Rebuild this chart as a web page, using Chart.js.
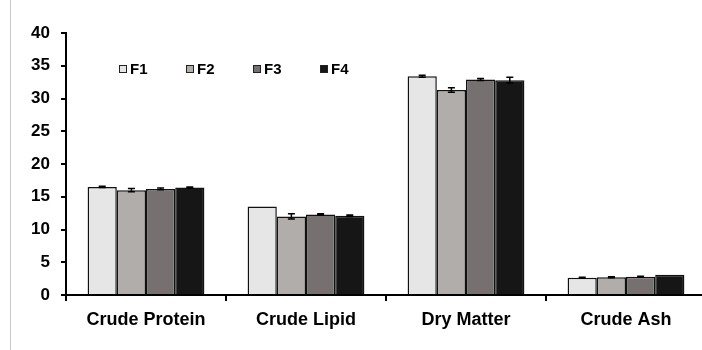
<!DOCTYPE html>
<html>
<head>
<meta charset="utf-8">
<script src="https://cdn.jsdelivr.net/npm/chart.js@4/dist/chart.umd.min.js"></script>
<style>
  html, body { margin: 0; padding: 0; background: #fff; overflow: hidden; }
  #wrap { position: relative; width: 708px; height: 350px; }
  #frame { position: absolute; left: 10px; top: 0; width: 1px; height: 350px; background: #c8c8c8; }
</style>
</head>
<body>
<div id="wrap"><div id="frame"></div><canvas id="c"></canvas></div>
<script>
const categories = ["Crude Protein", "Crude Lipid", "Dry Matter", "Crude Ash"];
const seriesNames = ["F1", "F2", "F3", "F4"];
const F1 = [16.5, 13.5, 33.4, 2.65];
const F2 = [16.0, 12.0, 31.3, 2.7];
const F3 = [16.2, 12.3, 32.9, 2.8];
const F4 = [16.4, 12.1, 32.8, 3.1];
const F1err = [0.1, 0.0, 0.15, 0.05];
const F2err = [0.25, 0.4, 0.35, 0.08];
const F3err = [0.15, 0.1, 0.15, 0.05];
const F4err = [0.1, 0.1, 0.45, 0.0];
const colors = ["#e6e6e6", "#b0adab", "#767170", "#161616"];
const yTicks = [0, 5, 10, 15, 20, 25, 30, 35, 40];

const values = [F1, F2, F3, F4];
const errors = [F1err, F2err, F3err, F4err];
const FONT = "'Liberation Sans', Arial, sans-serif";

const errorBars = {
  id: 'errorBars',
  afterDatasetsDraw(chart) {
    const ctx = chart.ctx, y = chart.scales.y;
    ctx.save();
    ctx.strokeStyle = '#000';
    ctx.lineWidth = 1.5;
    chart.data.datasets.forEach((ds, di) => {
      const meta = chart.getDatasetMeta(di);
      meta.data.forEach((bar, i) => {
        const e = ds.errors[i];
        if (!e) return;
        const v = ds.data[i];
        const yt = y.getPixelForValue(v + e), yb = y.getPixelForValue(v - e);
        ctx.beginPath();
        ctx.moveTo(bar.x, yt); ctx.lineTo(bar.x, yb);
        ctx.moveTo(bar.x - 3.5, yt); ctx.lineTo(bar.x + 3.5, yt);
        ctx.moveTo(bar.x - 3.5, yb); ctx.lineTo(bar.x + 3.5, yb);
        ctx.stroke();
      });
    });
    ctx.restore();
  }
};

const insideLegend = {
  id: 'insideLegend',
  afterDraw(chart) {
    const ctx = chart.ctx, a = chart.chartArea;
    ctx.save();
    ctx.font = "bold 15px " + FONT;
    ctx.textBaseline = 'middle';
    chart.data.datasets.forEach((ds, i) => {
      const x = a.left + 53 + i * 67;
      const yc = a.top + 36;
      ctx.fillStyle = ds.backgroundColor;
      ctx.fillRect(x, yc - 3.5, 8, 7);
      ctx.strokeStyle = '#222';
      ctx.lineWidth = 1;
      ctx.strokeRect(x + 0.5, yc - 3.5, 7, 7);
      ctx.fillStyle = '#000';
      ctx.fillText(ds.label, x + 11, yc + 0.5);
    });
    ctx.restore();
  }
};

new Chart(document.getElementById('c'), {
  type: 'bar',
  data: {
    labels: categories,
    datasets: seriesNames.map((n, i) => ({
      label: n,
      data: values[i],
      errors: errors[i],
      backgroundColor: colors[i],
      borderColor: '#111',
      borderWidth: 1.5,
      categoryPercentage: 0.73,
      barPercentage: 1.0
    }))
  },
  options: {
    responsive: true,
    maintainAspectRatio: false,
    animation: false,
    layout: { padding: { top: 33, right: 2, bottom: 0, left: 0 } },
    plugins: { legend: { display: false }, tooltip: { enabled: false } },
    scales: {
      x: {
        afterFit: s => { s.height = 55; },
        border: { display: true, color: '#000', width: 2 },
        grid: { offset: true, drawOnChartArea: false, drawTicks: true, tickLength: 6, color: '#000', lineWidth: 2 },
        ticks: { color: '#000', font: { family: FONT, size: 18, weight: 'bold' }, padding: 8, maxRotation: 0 }
      },
      y: {
        min: 0, max: 40,
        afterFit: s => { s.width = 66; },
        afterBuildTicks: s => { s.ticks = yTicks.map(v => ({ value: v })); },
        border: { display: true, color: '#000', width: 2 },
        grid: { drawOnChartArea: false, drawTicks: true, tickLength: 5, color: '#000', lineWidth: 2 },
        ticks: { color: '#000', font: { family: FONT, size: 17, weight: 'bold' }, padding: 11 }
      }
    }
  },
  plugins: [errorBars, insideLegend]
});
</script>
</body>
</html>
